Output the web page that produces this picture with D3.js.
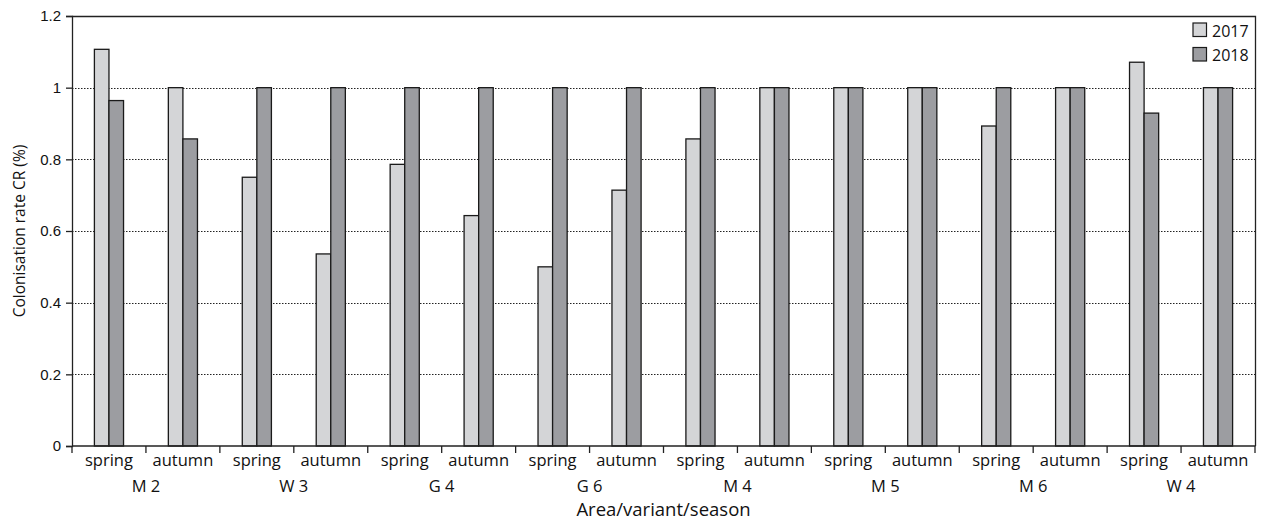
<!DOCTYPE html>
<html>
<head>
<meta charset="utf-8">
<script src="https://cdn.jsdelivr.net/npm/d3@7"></script>
<style>
  html, body { margin: 0; padding: 0; background: #fff; }
  svg { display: block; font-family: "Open Sans", "Noto Sans", sans-serif; }
</style>
</head>
<body>
<svg id="chart" width="1261" height="520"></svg>
<script>
// Colonisation rate by area/variant and season, 2017 vs 2018
const groups = ["M 2", "W 3", "G 4", "G 6", "M 4", "M 5", "M 6", "W 4"];
const seasons = ["spring", "autumn"];
const years = ["2017", "2018"];
const values2017 = [1.107, 1.0, 0.75, 0.536, 0.786, 0.643, 0.5, 0.714, 0.857, 1.0, 1.0, 1.0, 0.893, 1.0, 1.071, 1.0];
const values2018 = [0.964, 0.857, 1.0, 1.0, 1.0, 1.0, 1.0, 1.0, 1.0, 1.0, 1.0, 1.0, 1.0, 1.0, 0.929, 1.0];
const yTicks = [0, 0.2, 0.4, 0.6, 0.8, 1, 1.2];
const yTickLabels = ["0", "0.2", "0.4", "0.6", "0.8", "1", "1.2"];
const colors = { "2017": "#d4d5d7", "2018": "#9c9da1" };

const categories = [];
groups.forEach(g => seasons.forEach(s => categories.push(g + "|" + s)));
const rows = categories.map((c, i) => ({ key: c, "2017": values2017[i], "2018": values2018[i] }));

const svg = d3.select("#chart");
const m = { left: 72, right: 6, top: 16, bottom: 74 };
const W = 1261, H = 520;
const x = d3.scaleBand().domain(categories).range([m.left, W - m.right]);
const y = d3.scaleLinear().domain([0, 1.2]).range([H - m.bottom, m.top]);
const barW = x.bandwidth() * 0.197;

// dotted gridlines
svg.append("g").selectAll("line")
  .data(yTicks.filter(t => t > 0 && t < 1.2))
  .join("line")
  .attr("x1", m.left).attr("x2", W - m.right)
  .attr("y1", d => Math.round(y(d)) + 0.5).attr("y2", d => Math.round(y(d)) + 0.5)
  .attr("stroke", "#222").attr("stroke-width", 1).attr("stroke-dasharray", "1.5,1.5");

// bars
const cat = svg.append("g").selectAll("g").data(rows).join("g")
  .attr("transform", d => `translate(${x(d.key) + x.bandwidth() / 2},0)`);
years.forEach((yr, j) => {
  cat.append("rect")
    .attr("x", (j - 1) * barW)
    .attr("y", d => y(d[yr]))
    .attr("width", barW)
    .attr("height", d => y(0) - y(d[yr]))
    .attr("fill", colors[yr])
    .attr("stroke", "#1a1a1a").attr("stroke-width", 1.3);
});

// frame: top and right borders
svg.append("path")
  .attr("d", `M${m.left},${m.top + 0.5}H${W - m.right + 0.5}V${H - m.bottom}`)
  .attr("fill", "none").attr("stroke", "#222").attr("stroke-width", 1.3);

// y axis
const yAxis = d3.axisLeft(y).tickValues(yTicks).tickFormat((d, i) => yTickLabels[i]).tickSize(6).tickPadding(5);
const gy = svg.append("g").attr("transform", `translate(${m.left},0)`).call(yAxis);
gy.selectAll("path,line").attr("stroke", "#222").attr("stroke-width", 1.3);
gy.selectAll("text").attr("font-size", 15).attr("fill", "#111");

// x axis: ticks at category boundaries
const gx = svg.append("g").attr("transform", `translate(0,${H - m.bottom})`);
gx.append("line").attr("x1", m.left).attr("x2", W - m.right + 0.5)
  .attr("stroke", "#222").attr("stroke-width", 1.3);
gx.selectAll("line.tick").data(categories.concat([null])).join("line")
  .attr("class", "tick")
  .attr("x1", (d, i) => x.range()[0] + i * x.step())
  .attr("x2", (d, i) => x.range()[0] + i * x.step())
  .attr("y1", 0).attr("y2", 7)
  .attr("stroke", "#222").attr("stroke-width", 1.3);
gx.selectAll("text.season").data(categories).join("text")
  .attr("class", "season")
  .attr("x", d => x(d) + x.bandwidth() / 2)
  .attr("y", 20)
  .attr("text-anchor", "middle").attr("font-size", 16.5).attr("fill", "#111")
  .text(d => d.split("|")[1]);
gx.selectAll("text.group").data(groups).join("text")
  .attr("class", "group")
  .attr("x", g => x(g + "|spring") + x.bandwidth())
  .attr("y", 46)
  .attr("text-anchor", "middle").attr("font-size", 16.5).attr("fill", "#111")
  .text(g => g);

// axis titles
svg.append("text")
  .attr("x", (m.left + W - m.right) / 2).attr("y", 516)
  .attr("text-anchor", "middle").attr("font-size", 18.5).attr("fill", "#111")
  .text("Area/variant/season");
svg.append("text")
  .attr("transform", `translate(25,231) rotate(-90)`)
  .attr("text-anchor", "middle").attr("font-size", 15.5).attr("fill", "#111")
  .text("Colonisation rate CR (%)");

// legend
const lg = svg.append("g").attr("transform", "translate(1193,23)");
years.forEach((yr, i) => {
  lg.append("rect").attr("x", 0).attr("y", i * 24.5).attr("width", 13.5).attr("height", 13.5)
    .attr("fill", colors[yr]).attr("stroke", "#1a1a1a").attr("stroke-width", 1.2);
  lg.append("text").attr("x", 19).attr("y", i * 24.5 + 13.5)
    .attr("font-size", 16).attr("fill", "#111").text(yr);
});
</script>
</body>
</html>
